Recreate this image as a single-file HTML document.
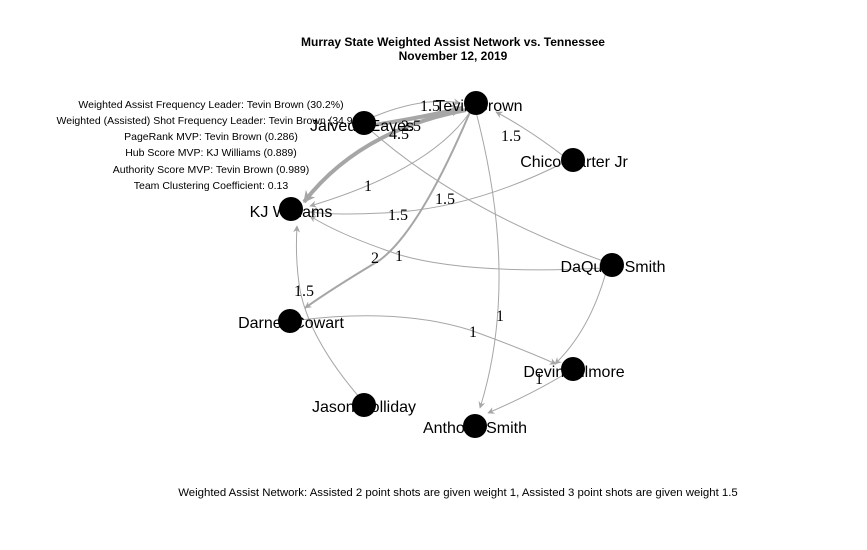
<!DOCTYPE html>
<html><head><meta charset="utf-8"><style>
html,body{margin:0;padding:0;background:#fff;}
svg{display:block;}
</style></head><body>
<svg width="867" height="550" viewBox="0 0 867 550" xmlns="http://www.w3.org/2000/svg" font-family="Liberation Sans, sans-serif">
<defs>
<marker id="a" viewBox="0 0 10 10" refX="9" refY="5" markerWidth="7" markerHeight="7" orient="auto" markerUnits="userSpaceOnUse"><path d="M0,0 L10,5 L0,10 L3,5 z" fill="#a6a6a6"/></marker>
<marker id="b" viewBox="0 0 10 10" refX="9" refY="5" markerWidth="12" markerHeight="12" orient="auto" markerUnits="userSpaceOnUse"><path d="M0,0 L10,5 L0,10 L3,5 z" fill="#a6a6a6"/></marker>
</defs>
<text x="453" y="46" font-size="12" font-weight="bold" text-anchor="middle">Murray State Weighted Assist Network vs. Tennessee</text>
<text x="453" y="60" font-size="12" font-weight="bold" text-anchor="middle">November 12, 2019</text>
<g font-size="10.5" text-anchor="middle" fill="#000">
<text x="211" y="108">Weighted Assist Frequency Leader: Tevin Brown (30.2%)</text>
<text x="211" y="124">Weighted (Assisted) Shot Frequency Leader: Tevin Brown (34.9%)</text>
<text x="211" y="140">PageRank MVP: Tevin Brown (0.286)</text>
<text x="211" y="156">Hub Score MVP: KJ Williams (0.889)</text>
<text x="211" y="173">Authority Score MVP: Tevin Brown (0.989)</text>
<text x="211" y="189">Team Clustering Coefficient: 0.13</text>
</g>
<g fill="none" stroke="#a6a6a6">
<path d="M366,120 Q420,96 460,103" stroke-width="1" marker-end="url(#a)"/>
<path d="M368,126 Q420,118 462,108" stroke-width="4" marker-end="url(#b)"/>
<path d="M466,110 Q360,130 304,202" stroke-width="4" marker-end="url(#b)"/>
<path d="M566,158 Q530,130 496,112" stroke-width="1" marker-end="url(#a)"/>
<path d="M470,112 Q430,170 310,206" stroke-width="1" marker-end="url(#a)"/>
<path d="M565,162 Q480,205 400,212 Q340,216 310,212" stroke-width="1" marker-end="url(#a)"/>
<path d="M368,128 Q460,210 606,262" stroke-width="1"/>
<path d="M604,268 Q470,275 400,255 Q340,235 310,216" stroke-width="1" marker-end="url(#a)"/>
<path d="M470,112 Q420,230 380,260 Q330,290 305,308" stroke-width="2" marker-end="url(#a)"/>
<path d="M360,398 Q310,340 300,290 Q295,260 297,226" stroke-width="1" marker-end="url(#a)"/>
<path d="M476,112 Q520,280 480,408" stroke-width="1" marker-end="url(#a)"/>
<path d="M300,320 Q400,308 470,330 Q520,348 556,364" stroke-width="1" marker-end="url(#a)"/>
<path d="M606,272 Q590,330 555,364" stroke-width="1" marker-end="url(#a)"/>
<path d="M565,374 Q530,395 488,413" stroke-width="1" marker-end="url(#a)"/>
</g>
<g fill="#000">
<circle cx="476" cy="103" r="12"/>
<circle cx="364" cy="123" r="12"/>
<circle cx="573" cy="160" r="12"/>
<circle cx="291" cy="209" r="12"/>
<circle cx="612" cy="265" r="12"/>
<circle cx="290" cy="321" r="12"/>
<circle cx="573" cy="369" r="12"/>
<circle cx="364" cy="405" r="12"/>
<circle cx="475" cy="426" r="12"/>
</g>
<g font-size="16" text-anchor="middle" fill="#000">
<text x="479" y="111">Tevin Brown</text>
<text x="362" y="131">Jaivedd Eaves</text>
<text x="574" y="167">Chico Carter Jr</text>
<text x="291" y="217">KJ Williams</text>
<text x="613" y="272">DaQuan Smith</text>
<text x="291" y="328">Darnell Cowart</text>
<text x="574" y="377">Devin Gilmore</text>
<text x="364" y="412">Jason Holliday</text>
<text x="475" y="433">Anthony Smith</text>
</g>
<g font-size="16" font-family="Liberation Serif, serif" text-anchor="middle" fill="#000">
<text x="430" y="111">1.5</text>
<text x="411" y="131">2.5</text>
<text x="399" y="139">4.5</text>
<text x="511" y="141">1.5</text>
<text x="368" y="191">1</text>
<text x="445" y="204">1.5</text>
<text x="398" y="220">1.5</text>
<text x="375" y="263">2</text>
<text x="399" y="261">1</text>
<text x="304" y="296">1.5</text>
<text x="500" y="321">1</text>
<text x="473" y="337">1</text>
<text x="539" y="384">1</text>
</g>
<text x="458" y="496" font-size="11.4" text-anchor="middle">Weighted Assist Network: Assisted 2 point shots are given weight 1, Assisted 3 point shots are given weight 1.5</text>
</svg>
</body></html>
